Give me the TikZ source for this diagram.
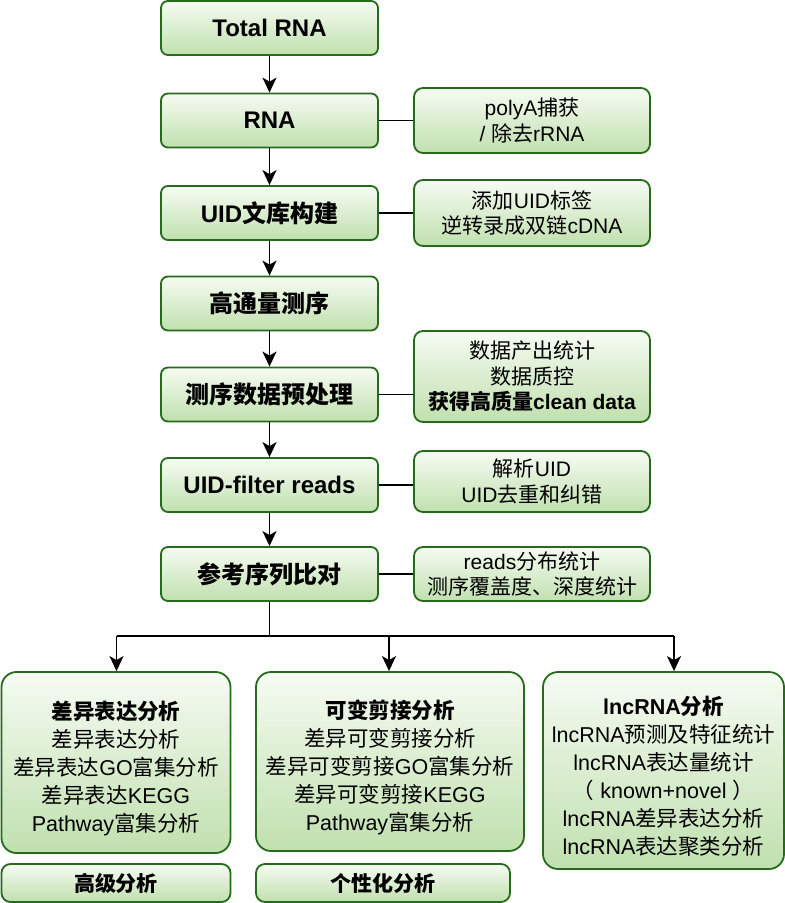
\documentclass[tikz,border=0pt]{standalone}
\usepackage{fontspec}
\usetikzlibrary{arrows.meta}
\setmainfont{Liberation Sans}
\newfontfamily\cjk{Noto Sans CJK SC}
\XeTeXinterchartokenstate=1
\newXeTeXintercharclass\zhclass
\newcount\zhcount
\zhcount="3000
\loop
  \XeTeXcharclass\zhcount=\zhclass
  \ifnum\zhcount<"9FFF \advance\zhcount by 1
\repeat
\zhcount="FF00
\loop
  \XeTeXcharclass\zhcount=\zhclass
  \ifnum\zhcount<"FFEF \advance\zhcount by 1
\repeat
\XeTeXinterchartoks 0 \zhclass = {\begingroup\cjk}
\XeTeXinterchartoks 4095 \zhclass = {\begingroup\cjk}
\XeTeXinterchartoks \zhclass 0 = {\endgroup}
\XeTeXinterchartoks \zhclass 4095 = {\endgroup}
\definecolor{boxline}{RGB}{38,106,28}
\definecolor{filltop}{RGB}{246,251,243}
\definecolor{fillbot}{RGB}{192,224,174}
\tikzset{
  greenbox/.style={draw=boxline,line width=1.8pt,top color=filltop,bottom color=fillbot,align=center,inner sep=2pt},
  stepbox/.style={greenbox,rounded corners=7pt,minimum width=217pt,minimum height=54pt,font=\fontsize{24}{28}\selectfont\bfseries},
  notebox/.style={greenbox,rounded corners=9pt,minimum width=236pt,font=\fontsize{21}{25.5}\selectfont},
  resultbox/.style={greenbox,rounded corners=15pt,font=\fontsize{21.5}{28}\selectfont},
  tagbox/.style={greenbox,rounded corners=9pt,minimum height=38pt,font=\fontsize{21}{25}\selectfont\bfseries},
  link/.style={line width=1.8pt},
  flow/.style={->,line width=1.8pt}
}
\begin{document}
\begin{tikzpicture}[x=1pt,y=-1pt,>={Stealth[length=15pt,width=14pt,inset=4pt]}]
  \useasboundingbox (0,0) rectangle (785,903);
  \node[stepbox] (total) at (269.5,28) {Total RNA};
  \node[stepbox] (rna) at (269.5,120.5) {RNA};
  \node[stepbox] (lib) at (269.5,213) {UID文库构建};
  \node[stepbox] (seq) at (269.5,303.5) {高通量测序};
  \node[stepbox] (pre) at (269.5,394.5) {测序数据预处理};
  \node[stepbox] (uid) at (269.5,485) {UID-filter reads};
  \node[stepbox] (map) at (269.5,574) {参考序列比对};
  \node[notebox,minimum height=65pt] (rnanote) at (532,120.5) {polyA捕获\\/ 除去rRNA};
  \node[notebox,minimum height=66pt] (libnote) at (532,213) {添加UID标签\\逆转录成双链cDNA};
  \node[notebox,minimum height=91pt] (prenote) at (532,376.5) {数据产出统计\\数据质控\\{\bfseries 获得高质量clean data}};
  \node[notebox,minimum height=61pt] (uidnote) at (532,481.5) {解析UID\\UID去重和纠错};
  \node[notebox,minimum height=54pt] (mapnote) at (532,574) {reads分布统计\\测序覆盖度、深度统计};
  \node[resultbox,minimum width=229pt,minimum height=181pt] (diff) at (116,762.5)
    {\rule{0pt}{30pt}{\bfseries 差异表达分析}\\差异表达分析\\差异表达GO富集分析\\差异表达KEGG\\Pathway富集分析};
  \node[resultbox,minimum width=268pt,minimum height=179pt] (splice) at (390,761.5)
    {\rule{0pt}{30pt}{\bfseries 可变剪接分析}\\差异可变剪接分析\\差异可变剪接GO富集分析\\差异可变剪接KEGG\\Pathway富集分析};
  \node[resultbox,minimum width=241pt,minimum height=197pt] (lnc) at (663.5,770.5)
    {\rule{0pt}{30pt}{\bfseries lncRNA分析}\\lncRNA预测及特征统计\\lncRNA表达量统计\\（ known+novel ）\\lncRNA差异表达分析\\lncRNA表达聚类分析};
  \node[tagbox,minimum width=229pt] (adv) at (116,883) {高级分析};
  \node[tagbox,minimum width=254pt] (pers) at (383,883) {个性化分析};
  \draw[flow] (total) -- (rna);
  \draw[flow] (rna) -- (lib);
  \draw[flow] (lib) -- (seq);
  \draw[flow] (seq) -- (pre);
  \draw[flow] (pre) -- (uid);
  \draw[flow] (uid) -- (map);
  \draw[link] (rna.east) -- (rna.east -| rnanote.west);
  \draw[link] (lib.east) -- (lib.east -| libnote.west);
  \draw[link] (pre.east) -- (pre.east -| prenote.west);
  \draw[link] (uid.east) -- (uid.east -| uidnote.west);
  \draw[link] (map.east) -- (mapnote.west);
  \coordinate (fork) at (269.5,636);
  \coordinate (fl) at (116.5,636);
  \coordinate (fm) at (389,636);
  \coordinate (fr) at (674,636);
  \draw[link] (map.south) -- (fork);
  \draw[link] (fl) -- (fr);
  \draw[flow] (fl) -- (fl |- diff.north);
  \draw[flow] (fm) -- (fm |- splice.north);
  \draw[flow] (fr) -- (fr |- lnc.north);
\end{tikzpicture}
\end{document}
